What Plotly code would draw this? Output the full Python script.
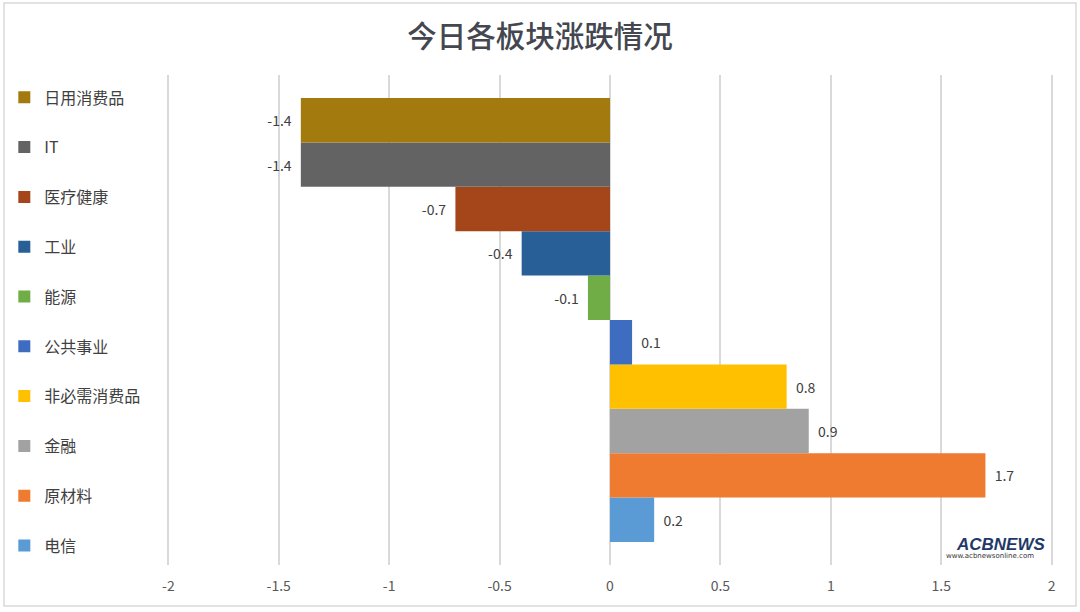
import plotly.graph_objects as go

# Data (top to bottom as shown in the reference)
sectors = ["日用消费品", "IT", "医疗健康", "工业", "能源", "公共事业", "非必需消费品", "金融", "原材料", "电信"]
changes = [-1.4, -1.4, -0.7, -0.4, -0.1, 0.1, 0.8, 0.9, 1.7, 0.2]
colors = ["#A27A0E", "#636363", "#A4461A", "#285F97", "#70AD47", "#3E6CC0", "#FFC000", "#A2A2A2", "#EE7B30", "#5B9BD5"]
category = ["今日"]
x_ticks = [-2, -1.5, -1, -0.5, 0, 0.5, 1, 1.5, 2]
title_text = "今日各板块涨跌情况"

FONT = "Noto Sans CJK SC, Noto Sans, sans-serif"

L, R, T, B = 167, 27, 75, 47
W, H = 1080, 612
PW, PH = W - L - R, H - T - B

fig = go.Figure()
# Plotly places the first grouped trace at the bottom, so add in reverse order
for i, (name, val, col) in reversed(list(enumerate(zip(sectors, changes, colors)))):
    label = f"{val:g}"
    fig.add_trace(go.Bar(
        name=name,
        y=category,
        x=[val],
        orientation="h",
        marker=dict(color=col, line=dict(width=0)),
        text=[("  " + label) if val > 0 else (label + "  ")],
        textposition="outside",
        textfont=dict(size=14, color="#404040", family=FONT),
        cliponaxis=False,
        legendgroup=name,
        legendrank=i + 1,
    ))

fig.update_layout(
    width=W,
    height=H,
    paper_bgcolor="white",
    plot_bgcolor="white",
    barmode="group",
    bargap=0.094,
    bargroupgap=0,
    margin=dict(l=L, r=R, t=T, b=B, autoexpand=False),
    title=dict(text=title_text, x=0.5, xref="container", xanchor="center",
               yref="container", y=1 - 37 / H, yanchor="middle",
               font=dict(size=29.5, color="#44474F", family=FONT, weight=500)),
    xaxis=dict(
        range=[-2.006, 2.006],
        tickmode="array",
        tickvals=x_ticks,
        ticktext=[f"{t:g}" for t in x_ticks],
        showgrid=True,
        gridcolor="#D9D9D9",
        gridwidth=1.5,
        zeroline=True,
        zerolinecolor="#D9D9D9",
        zerolinewidth=1.5,
        showline=False,
        ticks="",
        ticklabelstandoff=11,
        tickfont=dict(size=14, color="#595959", family=FONT),
    ),
    yaxis=dict(showticklabels=False, showgrid=False, zeroline=False, ticks=""),
    legend=dict(
        xref="container", yref="container",
        x=0.004, y=0.8686, xanchor="left", yanchor="top",
        traceorder="grouped",
        tracegroupgap=26,
        maxheight=600,
        font=dict(size=16, color="#404040", family=FONT),
        itemwidth=30,
        bgcolor="rgba(0,0,0,0)",
    ),
    showlegend=True,
    shapes=[dict(type="rect", xref="paper", yref="paper",
                 x0=(4 - L) / PW, x1=(1076 - L) / PW, y0=(H - B - 606) / PH, y1=(H - B - 3) / PH,
                 line=dict(color="#D9D9D9", width=1.5), fillcolor="rgba(0,0,0,0)", layer="below")],
    annotations=[
        dict(text="<b><i>ACBNEWS</i></b>", xref="paper", yref="paper",
             x=(1000 - L) / PW, y=(H - B - 544) / PH, xanchor="center", yanchor="middle",
             showarrow=False, font=dict(size=17, color="#1F3A68", family="Liberation Sans, Arial")),
        dict(text="www.acbnewsonline.com", xref="paper", yref="paper",
             x=(990 - L) / PW, y=(H - B - 556) / PH, xanchor="center", yanchor="middle",
             showarrow=False, font=dict(size=7, color="#333333", family="DejaVu Sans")),
    ],
)

fig.write_html("out.html", config={"displayModeBar": False},
               post_script="document.body.style.margin='0px';")
